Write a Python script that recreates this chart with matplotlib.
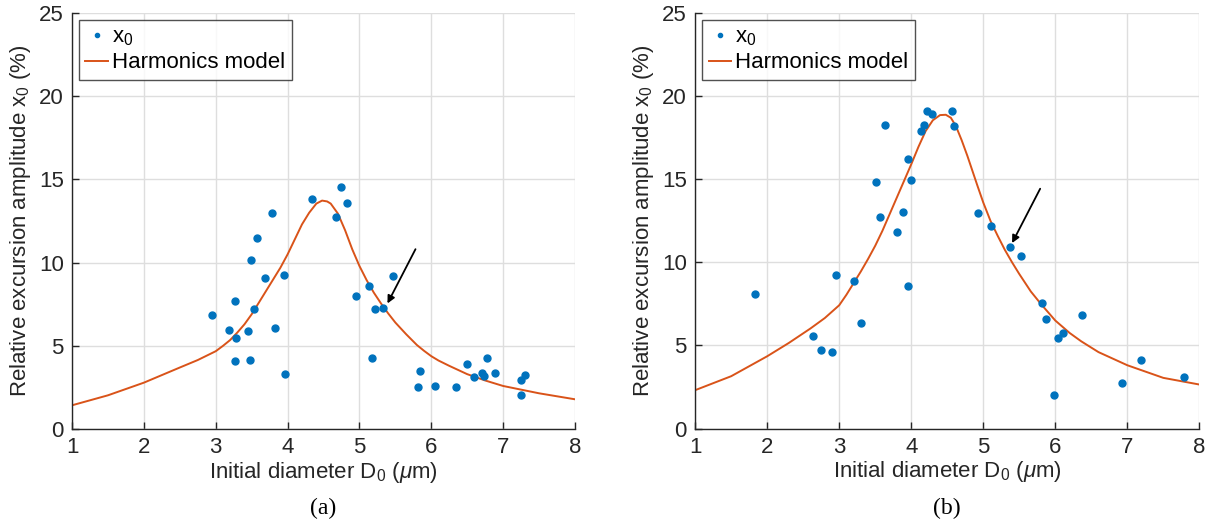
import numpy as np
import matplotlib
matplotlib.use('Agg')
import matplotlib.pyplot as plt

plt.rcParams['font.family'] = ['Liberation Sans', 'DejaVu Sans']
plt.rcParams['mathtext.fontset'] = 'custom'
plt.rcParams['mathtext.rm'] = 'Liberation Sans'
plt.rcParams['mathtext.it'] = 'Liberation Sans:italic'

BLUE = '#0072BD'
ORANGE = '#D95319'
DARK = '#262626'

# panel (a) measured points
D_A = [2.95, 3.19, 3.27, 3.28, 3.27, 3.47, 3.45, 3.53, 3.49, 3.58, 3.78, 3.69, 3.83,
       3.95, 3.97, 4.34, 4.75, 4.82, 4.68, 4.95, 5.13, 5.21, 5.33, 5.18, 5.46,
       5.84, 5.81, 6.05, 6.34, 6.49, 6.59, 6.70, 6.73, 6.77, 6.88, 7.25, 7.31, 7.25]
X0_A = [6.87, 5.93, 7.69, 5.50, 4.10, 4.16, 5.89, 7.19, 10.18, 11.47, 12.98, 9.06, 6.07,
        9.28, 3.34, 13.80, 14.54, 13.60, 12.77, 8.01, 8.60, 7.21, 7.27, 4.26, 9.18,
        3.51, 2.55, 2.59, 2.51, 3.90, 3.11, 3.37, 3.17, 4.26, 3.36, 2.92, 3.25, 2.05]

# panel (a) harmonics model
MD_A = [1.0, 1.5, 2.0, 2.5, 2.75, 3.0, 3.1, 3.2, 3.3, 3.4, 3.5, 3.6, 3.7, 3.8, 3.9,
        4.0, 4.1, 4.2, 4.3, 4.4, 4.48, 4.55, 4.6, 4.7, 4.8, 4.9, 5.0, 5.1, 5.2,
        5.3, 5.4, 5.5, 5.65, 5.8, 5.9, 6.0, 6.1, 6.25, 6.5, 6.75, 7.0, 7.5, 8.0]
MX_A = [1.43, 2.03, 2.79, 3.70, 4.15, 4.68, 5.0, 5.35, 5.8, 6.3, 6.9, 7.6, 8.3, 9.0, 9.7,
        10.5, 11.4, 12.3, 13.0, 13.55, 13.73, 13.68, 13.55, 12.95, 11.95, 10.8, 9.8, 8.95, 8.2,
        7.55, 6.95, 6.4, 5.7, 5.05, 4.7, 4.38, 4.12, 3.8, 3.3, 2.92, 2.59, 2.15, 1.79]

# panel (b) measured points
D_B = [1.83, 2.63, 2.75, 2.90, 2.95, 3.20, 3.30, 3.51, 3.57, 3.64, 3.80, 3.88, 3.95, 3.95,
       4.00, 4.13, 4.18, 4.22, 4.29, 4.56, 4.59, 4.92, 5.11, 5.37, 5.53, 5.81, 5.87,
       6.37, 6.11, 6.04, 5.98, 6.93, 7.19, 7.79]
X0_B = [8.08, 5.54, 4.74, 4.60, 9.26, 8.88, 6.34, 14.86, 12.72, 18.25, 11.80, 13.0, 8.60, 16.24,
        14.97, 17.91, 18.29, 19.13, 18.91, 19.13, 18.23, 12.98, 12.18, 10.90, 10.40, 7.56, 6.58,
        6.84, 5.76, 5.44, 2.00, 2.72, 4.14, 3.08]

# panel (b) harmonics model
MD_B = [1.0, 1.5, 2.0, 2.3, 2.6, 2.8, 3.0, 3.1, 3.2, 3.3, 3.4, 3.5, 3.6, 3.7, 3.8, 3.9,
        4.0, 4.1, 4.2, 4.3, 4.4, 4.48, 4.55, 4.62, 4.7, 4.78, 4.85, 4.92, 5.0, 5.1,
        5.2, 5.3, 5.4, 5.5, 5.66, 5.8, 6.0, 6.2, 6.36, 6.6, 7.0, 7.5, 8.0]
MX_B = [2.31, 3.15, 4.35, 5.15, 6.02, 6.65, 7.42, 8.05, 8.75, 9.45, 10.2, 11.0, 11.9, 12.9,
        13.9, 14.9, 15.9, 16.95, 17.9, 18.55, 18.86, 18.88, 18.7, 18.2, 17.35, 16.4, 15.5,
        14.6, 13.6, 12.5, 11.6, 10.75, 10.0, 9.3, 8.25, 7.5, 6.5, 5.75, 5.25, 4.6, 3.81,
        3.05, 2.65]

# arrows: (tail, head)
ARROW_A = ((5.78, 10.81), (5.39, 7.55))
ARROW_B = ((5.79, 14.43), (5.40, 11.16))

fig = plt.figure(figsize=(12.09, 5.22), dpi=100)
ax_a = fig.add_axes([0.0596, 0.178, 0.416, 0.797])
ax_b = fig.add_axes([0.575, 0.179, 0.417, 0.796])


def draw_panel(ax, d, x0, md, mx, arrow, tag):
    ax.plot(d, x0, 'o', color=BLUE, ms=5, mec=BLUE, label='x$_0$', zorder=3)
    ax.plot(md, mx, '-', color=ORANGE, lw=1.4, label='Harmonics model', zorder=2)
    ax.annotate('', xy=arrow[1], xytext=arrow[0],
                arrowprops=dict(arrowstyle='-|>', color='k', lw=1.3,
                                mutation_scale=11, shrinkA=0, shrinkB=0))
    ax.set_xlim(1, 8)
    ax.set_ylim(0, 25)
    ax.set_xticks(range(1, 9))
    ax.set_yticks([0, 5, 10, 15, 20, 25])
    ax.grid(True, color='#dedede', lw=1.0)
    ax.set_axisbelow(True)
    for s in ['top', 'right']:
        ax.spines[s].set_visible(False)
    for s in ['left', 'bottom']:
        ax.spines[s].set_color(DARK)
        ax.spines[s].set_linewidth(1.0)
    ax.tick_params(direction='in', length=5, width=1.0, color=DARK,
                   labelcolor=DARK, labelsize=16, pad=6)
    ax.set_xlabel('Initial diameter D$_0$ ($\\mu$m)', fontsize=16, color=DARK, labelpad=1)
    ax.set_ylabel('Relative excursion amplitude x$_0$ (%)', fontsize=16, color=DARK, labelpad=4)
    leg = ax.legend(loc='upper left', fontsize=16, frameon=True, fancybox=False,
                    edgecolor=DARK, borderpad=0.3, handlelength=1.0, handletextpad=0.2,
                    labelspacing=0.2, borderaxespad=0.3, markerscale=0.6)
    leg.get_frame().set_linewidth(1.0)
    pos = ax.get_position()
    fig.text(pos.x0 + pos.width / 2, 0.026, tag, ha='center', va='center',
             fontsize=17, family='Liberation Serif')


draw_panel(ax_a, D_A, X0_A, MD_A, MX_A, ARROW_A, '(a)')
draw_panel(ax_b, D_B, X0_B, MD_B, MX_B, ARROW_B, '(b)')

fig.savefig('out.png', dpi=100)
